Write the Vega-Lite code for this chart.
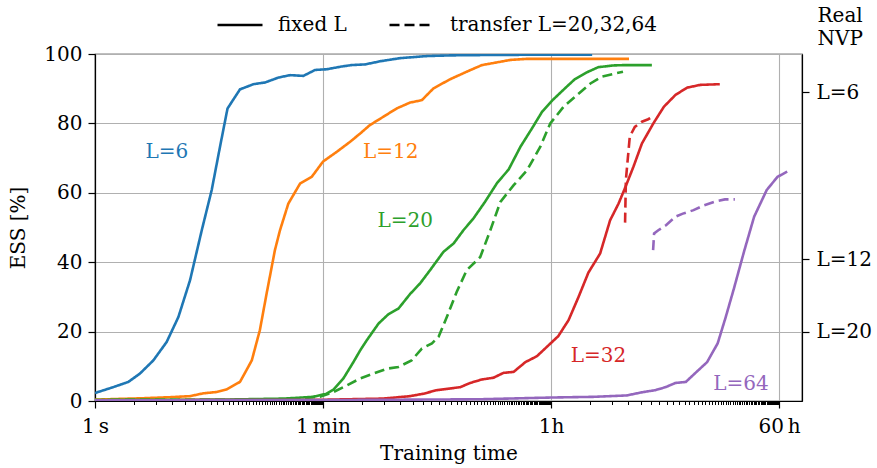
{
  "$schema": "https://vega.github.io/schema/vega-lite/v6.json",
  "width": 707,
  "height": 347,
  "autosize": {"type": "none"},
  "padding": {"left": 95, "top": 54, "right": 75, "bottom": 67},
  "config": {
    "font": "DejaVu Serif",
    "view": {"stroke": "black", "strokeWidth": 1.2},
    "axis": {
      "labelFont": "DejaVu Serif", "titleFont": "DejaVu Serif",
      "labelFontSize": 20, "titleFontSize": 20, "titleFontWeight": "normal",
      "labelColor": "black", "titleColor": "black",
      "domainColor": "black", "domainWidth": 1.2,
      "tickColor": "black", "tickWidth": 1.2, "tickSize": 7,
      "gridColor": "#b0b0b0", "gridWidth": 1.1, "gridOpacity": 1
    }
  },
  "resolve": {"axis": {"x": "independent", "y": "independent"}},
  "layer": [
    {
      "data": {"values": [
        {"L":"L=6","kind":"fixed L","t":1,"ess":2.3},
        {"L":"L=6","kind":"fixed L","t":1.39,"ess":4.0},
        {"L":"L=6","kind":"fixed L","t":1.82,"ess":5.5},
        {"L":"L=6","kind":"fixed L","t":2.24,"ess":7.9},
        {"L":"L=6","kind":"fixed L","t":2.85,"ess":11.7},
        {"L":"L=6","kind":"fixed L","t":3.62,"ess":17},
        {"L":"L=6","kind":"fixed L","t":4.47,"ess":24.2},
        {"L":"L=6","kind":"fixed L","t":5.51,"ess":34.8},
        {"L":"L=6","kind":"fixed L","t":6.8,"ess":49.2},
        {"L":"L=6","kind":"fixed L","t":8.13,"ess":60.8},
        {"L":"L=6","kind":"fixed L","t":9.44,"ess":73.3},
        {"L":"L=6","kind":"fixed L","t":10.8,"ess":84.3},
        {"L":"L=6","kind":"fixed L","t":13.5,"ess":89.8},
        {"L":"L=6","kind":"fixed L","t":17.2,"ess":91.3},
        {"L":"L=6","kind":"fixed L","t":21.2,"ess":91.8},
        {"L":"L=6","kind":"fixed L","t":26.9,"ess":93.2},
        {"L":"L=6","kind":"fixed L","t":33.2,"ess":93.9},
        {"L":"L=6","kind":"fixed L","t":42.2,"ess":93.7},
        {"L":"L=6","kind":"fixed L","t":52,"ess":95.4},
        {"L":"L=6","kind":"fixed L","t":64,"ess":95.6},
        {"L":"L=6","kind":"fixed L","t":84,"ess":96.4},
        {"L":"L=6","kind":"fixed L","t":100,"ess":96.8},
        {"L":"L=6","kind":"fixed L","t":128,"ess":97.0},
        {"L":"L=6","kind":"fixed L","t":167,"ess":97.9},
        {"L":"L=6","kind":"fixed L","t":239,"ess":98.8},
        {"L":"L=6","kind":"fixed L","t":386,"ess":99.4},
        {"L":"L=6","kind":"fixed L","t":587,"ess":99.6},
        {"L":"L=6","kind":"fixed L","t":1063,"ess":99.7},
        {"L":"L=6","kind":"fixed L","t":3000,"ess":99.8},
        {"L":"L=6","kind":"fixed L","t":7530,"ess":99.8},

        {"L":"L=12","kind":"fixed L","t":1,"ess":0.4},
        {"L":"L=12","kind":"fixed L","t":2.37,"ess":0.8},
        {"L":"L=12","kind":"fixed L","t":3.85,"ess":1.1},
        {"L":"L=12","kind":"fixed L","t":5.5,"ess":1.4},
        {"L":"L=12","kind":"fixed L","t":6.96,"ess":2.2},
        {"L":"L=12","kind":"fixed L","t":8.9,"ess":2.6},
        {"L":"L=12","kind":"fixed L","t":10.6,"ess":3.3},
        {"L":"L=12","kind":"fixed L","t":13.5,"ess":5.5},
        {"L":"L=12","kind":"fixed L","t":16.7,"ess":11.7},
        {"L":"L=12","kind":"fixed L","t":19.3,"ess":20.4},
        {"L":"L=12","kind":"fixed L","t":21.8,"ess":31},
        {"L":"L=12","kind":"fixed L","t":25.3,"ess":43.5},
        {"L":"L=12","kind":"fixed L","t":27.7,"ess":49.2},
        {"L":"L=12","kind":"fixed L","t":32.2,"ess":56.9},
        {"L":"L=12","kind":"fixed L","t":39.8,"ess":62.7},
        {"L":"L=12","kind":"fixed L","t":49,"ess":64.6},
        {"L":"L=12","kind":"fixed L","t":60,"ess":69},
        {"L":"L=12","kind":"fixed L","t":76.7,"ess":71.8},
        {"L":"L=12","kind":"fixed L","t":97.6,"ess":74.7},
        {"L":"L=12","kind":"fixed L","t":117,"ess":77.1},
        {"L":"L=12","kind":"fixed L","t":139,"ess":79.5},
        {"L":"L=12","kind":"fixed L","t":177,"ess":81.9},
        {"L":"L=12","kind":"fixed L","t":225,"ess":84.3},
        {"L":"L=12","kind":"fixed L","t":286,"ess":86.0},
        {"L":"L=12","kind":"fixed L","t":354,"ess":86.7},
        {"L":"L=12","kind":"fixed L","t":436,"ess":90.1},
        {"L":"L=12","kind":"fixed L","t":586,"ess":92.7},
        {"L":"L=12","kind":"fixed L","t":792,"ess":94.9},
        {"L":"L=12","kind":"fixed L","t":1040,"ess":96.8},
        {"L":"L=12","kind":"fixed L","t":1370,"ess":97.6},
        {"L":"L=12","kind":"fixed L","t":1740,"ess":98.3},
        {"L":"L=12","kind":"fixed L","t":2330,"ess":98.6},
        {"L":"L=12","kind":"fixed L","t":14600,"ess":98.6},

        {"L":"L=20","kind":"fixed L","t":1,"ess":0.3},
        {"L":"L=20","kind":"fixed L","t":10,"ess":0.4},
        {"L":"L=20","kind":"fixed L","t":30,"ess":0.7},
        {"L":"L=20","kind":"fixed L","t":50,"ess":1.2},
        {"L":"L=20","kind":"fixed L","t":64,"ess":2.1},
        {"L":"L=20","kind":"fixed L","t":72.4,"ess":3.3},
        {"L":"L=20","kind":"fixed L","t":86.5,"ess":6.5},
        {"L":"L=20","kind":"fixed L","t":103.5,"ess":11.2},
        {"L":"L=20","kind":"fixed L","t":117,"ess":14.6},
        {"L":"L=20","kind":"fixed L","t":131.6,"ess":17.5},
        {"L":"L=20","kind":"fixed L","t":162.4,"ess":22.3},
        {"L":"L=20","kind":"fixed L","t":194,"ess":25.0},
        {"L":"L=20","kind":"fixed L","t":232,"ess":26.6},
        {"L":"L=20","kind":"fixed L","t":286,"ess":30.8},
        {"L":"L=20","kind":"fixed L","t":343,"ess":33.9},
        {"L":"L=20","kind":"fixed L","t":410,"ess":37.7},
        {"L":"L=20","kind":"fixed L","t":522,"ess":43.0},
        {"L":"L=20","kind":"fixed L","t":626,"ess":45.4},
        {"L":"L=20","kind":"fixed L","t":746,"ess":49.2},
        {"L":"L=20","kind":"fixed L","t":893,"ess":52.6},
        {"L":"L=20","kind":"fixed L","t":1100,"ess":57.4},
        {"L":"L=20","kind":"fixed L","t":1370,"ess":62.9},
        {"L":"L=20","kind":"fixed L","t":1680,"ess":66.7},
        {"L":"L=20","kind":"fixed L","t":2080,"ess":73.3},
        {"L":"L=20","kind":"fixed L","t":2560,"ess":78.6},
        {"L":"L=20","kind":"fixed L","t":3070,"ess":83.4},
        {"L":"L=20","kind":"fixed L","t":3700,"ess":86.7},
        {"L":"L=20","kind":"fixed L","t":4470,"ess":89.6},
        {"L":"L=20","kind":"fixed L","t":5500,"ess":92.7},
        {"L":"L=20","kind":"fixed L","t":6830,"ess":94.7},
        {"L":"L=20","kind":"fixed L","t":8400,"ess":96.2},
        {"L":"L=20","kind":"fixed L","t":11000,"ess":96.7},
        {"L":"L=20","kind":"fixed L","t":13300,"ess":96.8},
        {"L":"L=20","kind":"fixed L","t":22000,"ess":96.8},

        {"L":"L=20","kind":"transfer L=20,32,64","t":1,"ess":0.3},
        {"L":"L=20","kind":"transfer L=20,32,64","t":30,"ess":0.4},
        {"L":"L=20","kind":"transfer L=20,32,64","t":56.9,"ess":1.2},
        {"L":"L=20","kind":"transfer L=20,32,64","t":72.4,"ess":2.6},
        {"L":"L=20","kind":"transfer L=20,32,64","t":92,"ess":4.5},
        {"L":"L=20","kind":"transfer L=20,32,64","t":117,"ess":6.5},
        {"L":"L=20","kind":"transfer L=20,32,64","t":148,"ess":7.9},
        {"L":"L=20","kind":"transfer L=20,32,64","t":189,"ess":9.3},
        {"L":"L=20","kind":"transfer L=20,32,64","t":232,"ess":9.8},
        {"L":"L=20","kind":"transfer L=20,32,64","t":294,"ess":11.7},
        {"L":"L=20","kind":"transfer L=20,32,64","t":354,"ess":15.1},
        {"L":"L=20","kind":"transfer L=20,32,64","t":424,"ess":16.6},
        {"L":"L=20","kind":"transfer L=20,32,64","t":478,"ess":18.5},
        {"L":"L=20","kind":"transfer L=20,32,64","t":554,"ess":24.2},
        {"L":"L=20","kind":"transfer L=20,32,64","t":661,"ess":31.4},
        {"L":"L=20","kind":"transfer L=20,32,64","t":792,"ess":37.7},
        {"L":"L=20","kind":"transfer L=20,32,64","t":1010,"ess":41.5},
        {"L":"L=20","kind":"transfer L=20,32,64","t":1210,"ess":49.2},
        {"L":"L=20","kind":"transfer L=20,32,64","t":1450,"ess":57.4},
        {"L":"L=20","kind":"transfer L=20,32,64","t":1840,"ess":62.2},
        {"L":"L=20","kind":"transfer L=20,32,64","t":2340,"ess":66.5},
        {"L":"L=20","kind":"transfer L=20,32,64","t":2970,"ess":73.3},
        {"L":"L=20","kind":"transfer L=20,32,64","t":3550,"ess":80},
        {"L":"L=20","kind":"transfer L=20,32,64","t":4510,"ess":84.8},
        {"L":"L=20","kind":"transfer L=20,32,64","t":5740,"ess":88.2},
        {"L":"L=20","kind":"transfer L=20,32,64","t":7300,"ess":91.5},
        {"L":"L=20","kind":"transfer L=20,32,64","t":9000,"ess":93.5},
        {"L":"L=20","kind":"transfer L=20,32,64","t":13100,"ess":94.9},

        {"L":"L=32","kind":"fixed L","t":1,"ess":0.2},
        {"L":"L=32","kind":"fixed L","t":50,"ess":0.3},
        {"L":"L=32","kind":"fixed L","t":177,"ess":0.7},
        {"L":"L=32","kind":"fixed L","t":286,"ess":1.4},
        {"L":"L=32","kind":"fixed L","t":364,"ess":2.1},
        {"L":"L=32","kind":"fixed L","t":461,"ess":3.1},
        {"L":"L=32","kind":"fixed L","t":586,"ess":3.6},
        {"L":"L=32","kind":"fixed L","t":707,"ess":4.0},
        {"L":"L=32","kind":"fixed L","t":842,"ess":5.2},
        {"L":"L=32","kind":"fixed L","t":1040,"ess":6.2},
        {"L":"L=32","kind":"fixed L","t":1280,"ess":6.7},
        {"L":"L=32","kind":"fixed L","t":1530,"ess":8.1},
        {"L":"L=32","kind":"fixed L","t":1840,"ess":8.4},
        {"L":"L=32","kind":"fixed L","t":2270,"ess":11.2},
        {"L":"L=32","kind":"fixed L","t":2790,"ess":12.9},
        {"L":"L=32","kind":"fixed L","t":3340,"ess":15.6},
        {"L":"L=32","kind":"fixed L","t":4100,"ess":18.7},
        {"L":"L=32","kind":"fixed L","t":4930,"ess":23.3},
        {"L":"L=32","kind":"fixed L","t":5900,"ess":30},
        {"L":"L=32","kind":"fixed L","t":7040,"ess":37},
        {"L":"L=32","kind":"fixed L","t":8690,"ess":42.5},
        {"L":"L=32","kind":"fixed L","t":10400,"ess":52.1},
        {"L":"L=32","kind":"fixed L","t":12100,"ess":56.9},
        {"L":"L=32","kind":"fixed L","t":13700,"ess":61.7},
        {"L":"L=32","kind":"fixed L","t":15800,"ess":67.5},
        {"L":"L=32","kind":"fixed L","t":18400,"ess":74.2},
        {"L":"L=32","kind":"fixed L","t":22600,"ess":80},
        {"L":"L=32","kind":"fixed L","t":27300,"ess":84.8},
        {"L":"L=32","kind":"fixed L","t":33600,"ess":88.2},
        {"L":"L=32","kind":"fixed L","t":41400,"ess":90.3},
        {"L":"L=32","kind":"fixed L","t":52400,"ess":91.1},
        {"L":"L=32","kind":"fixed L","t":74500,"ess":91.3},

        {"L":"L=32","kind":"transfer L=20,32,64","t":13600,"ess":51.4},
        {"L":"L=32","kind":"transfer L=20,32,64","t":13800,"ess":63.7},
        {"L":"L=32","kind":"transfer L=20,32,64","t":14800,"ess":76.2},
        {"L":"L=32","kind":"transfer L=20,32,64","t":16200,"ess":79},
        {"L":"L=32","kind":"transfer L=20,32,64","t":18400,"ess":80.5},
        {"L":"L=32","kind":"transfer L=20,32,64","t":20600,"ess":81.2},
        {"L":"L=32","kind":"transfer L=20,32,64","t":22600,"ess":82.1},

        {"L":"L=64","kind":"fixed L","t":1,"ess":0.2},
        {"L":"L=64","kind":"fixed L","t":100,"ess":0.3},
        {"L":"L=64","kind":"fixed L","t":1000,"ess":0.5},
        {"L":"L=64","kind":"fixed L","t":3600,"ess":1.0},
        {"L":"L=64","kind":"fixed L","t":7700,"ess":1.2},
        {"L":"L=64","kind":"fixed L","t":14000,"ess":1.6},
        {"L":"L=64","kind":"fixed L","t":19000,"ess":2.6},
        {"L":"L=64","kind":"fixed L","t":23300,"ess":3.1},
        {"L":"L=64","kind":"fixed L","t":28200,"ess":4.0},
        {"L":"L=64","kind":"fixed L","t":33600,"ess":5.2},
        {"L":"L=64","kind":"fixed L","t":40500,"ess":5.5},
        {"L":"L=64","kind":"fixed L","t":49100,"ess":8.4},
        {"L":"L=64","kind":"fixed L","t":59300,"ess":11.2},
        {"L":"L=64","kind":"fixed L","t":71700,"ess":16.6},
        {"L":"L=64","kind":"fixed L","t":82900,"ess":24.2},
        {"L":"L=64","kind":"fixed L","t":96000,"ess":32.4},
        {"L":"L=64","kind":"fixed L","t":115000,"ess":43},
        {"L":"L=64","kind":"fixed L","t":138000,"ess":53.1},
        {"L":"L=64","kind":"fixed L","t":173000,"ess":60.8},
        {"L":"L=64","kind":"fixed L","t":210000,"ess":64.6},
        {"L":"L=64","kind":"fixed L","t":250000,"ess":66.1},

        {"L":"L=64","kind":"transfer L=20,32,64","t":22500,"ess":43.5},
        {"L":"L=64","kind":"transfer L=20,32,64","t":22900,"ess":48.3},
        {"L":"L=64","kind":"transfer L=20,32,64","t":24700,"ess":49.2},
        {"L":"L=64","kind":"transfer L=20,32,64","t":28500,"ess":50.7},
        {"L":"L=64","kind":"transfer L=20,32,64","t":33600,"ess":53.1},
        {"L":"L=64","kind":"transfer L=20,32,64","t":38400,"ess":54},
        {"L":"L=64","kind":"transfer L=20,32,64","t":46500,"ess":55},
        {"L":"L=64","kind":"transfer L=20,32,64","t":56200,"ess":56.4},
        {"L":"L=64","kind":"transfer L=20,32,64","t":67800,"ess":57.4},
        {"L":"L=64","kind":"transfer L=20,32,64","t":81600,"ess":58.1},
        {"L":"L=64","kind":"transfer L=20,32,64","t":97700,"ess":58.1}
      ]},
      "mark": {"type": "line", "strokeWidth": 2.6, "clip": true},
      "encoding": {
        "x": {"field": "t", "type": "quantitative",
          "scale": {"type": "log", "domain": [1, 326000], "nice": false},
          "axis": {"values": [1, 60, 3600, 216000], "grid": true, "labelFlush": false,
            "labelExpr": "datum.value == 1 ? '1\u2009s' : datum.value == 60 ? '1\u2009min' : datum.value == 3600 ? '1h' : '60\u2009h'",
            "labelPadding": 8, "title": "Training time", "titlePadding": 7}},
        "y": {"field": "ess", "type": "quantitative",
          "scale": {"domain": [0, 100], "nice": false, "zero": false},
          "axis": {"values": [0, 20, 40, 60, 80, 100], "grid": true, "title": "ESS [%]", "titlePadding": 15, "labelPadding": 6}},
        "color": {"field": "L", "type": "nominal",
          "scale": {"domain": ["L=6", "L=12", "L=20", "L=32", "L=64"], "range": ["#1f77b4", "#ff7f0e", "#2ca02c", "#d62728", "#9467bd"]},
          "legend": null},
        "strokeDash": {"field": "kind", "type": "nominal",
          "scale": {"domain": ["fixed L", "transfer L=20,32,64"], "range": [[1, 0], [10, 5]]},
          "legend": {"orient": "none", "legendX": 121, "legendY": -53, "direction": "horizontal", "title": null,
            "symbolType": "stroke", "symbolSize": 2025, "symbolStrokeWidth": 2.6, "symbolStrokeColor": "black",
            "labelFontSize": 20, "labelFont": "DejaVu Serif", "labelColor": "black", "labelOffset": 14, "labelLimit": 400, "columnPadding": 37, "padding": 0}}
      }
    },
    {
      "data": {"values": [
        {"L": "L=6", "t": 3.63, "ess": 71.9},
        {"L": "L=12", "t": 202, "ess": 71.9},
        {"L": "L=20", "t": 263, "ess": 51.8},
        {"L": "L=32", "t": 8430, "ess": 12.9},
        {"L": "L=64", "t": 109000, "ess": 5.0}
      ]},
      "mark": {"type": "text", "fontSize": 20, "font": "DejaVu Serif", "align": "center", "baseline": "middle"},
      "encoding": {
        "x": {"field": "t", "type": "quantitative",
          "scale": {"type": "log", "domain": [1, 326000], "nice": false},
          "axis": {"orient": "bottom", "values": [2,3,4,5,6,7,8,9,10,11,12,13,14,15,16,17,18,19,20,21,22,23,24,25,26,27,28,29,30,31,32,33,34,35,36,37,38,39,40,41,42,43,44,45,46,47,48,49,50,51,52,53,54,55,56,57,58,59,120,180,240,300,360,420,480,540,600,660,720,780,840,900,960,1020,1080,1140,1200,1260,1320,1380,1440,1500,1560,1620,1680,1740,1800,1860,1920,1980,2040,2100,2160,2220,2280,2340,2400,2460,2520,2580,2640,2700,2760,2820,2880,2940,3000,3060,3120,3180,3240,3300,3360,3420,3480,3540,7200,10800,14400,18000,21600,25200,28800,32400,36000,39600,43200,46800,50400,54000,57600,61200,64800,68400,72000,75600,79200,82800,86400,90000,93600,97200,100800,104400,108000,111600,115200,118800,122400,126000,129600,133200,136800,140400,144000,147600,151200,154800,158400,162000,165600,169200,172800,176400,180000,183600,187200,190800,194400,198000,201600,205200,208800,212400],
            "labels": false, "domain": false, "grid": false, "tickSize": 3.5, "tickWidth": 1, "title": null}},
        "y": {"field": "ess", "type": "quantitative",
          "scale": {"domain": [0, 100], "nice": false, "zero": false},
          "axis": {"orient": "right", "values": [19.9, 40.9, 89], "grid": false,
            "labelExpr": "datum.value > 80 ? 'L=6' : datum.value > 30 ? 'L=12' : 'L=20'",
            "labelPadding": 7,
            "title": ["Real", "NVP"], "titleAngle": 0, "titleAlign": "left", "titleBaseline": "alphabetic",
            "titleX": 15, "titleY": -33, "titleLineHeight": 23}},
        "text": {"field": "L", "type": "nominal"},
        "color": {"field": "L", "type": "nominal",
          "scale": {"domain": ["L=6", "L=12", "L=20", "L=32", "L=64"], "range": ["#1f77b4", "#ff7f0e", "#2ca02c", "#d62728", "#9467bd"]},
          "legend": null}
      }
    }
  ]
}
